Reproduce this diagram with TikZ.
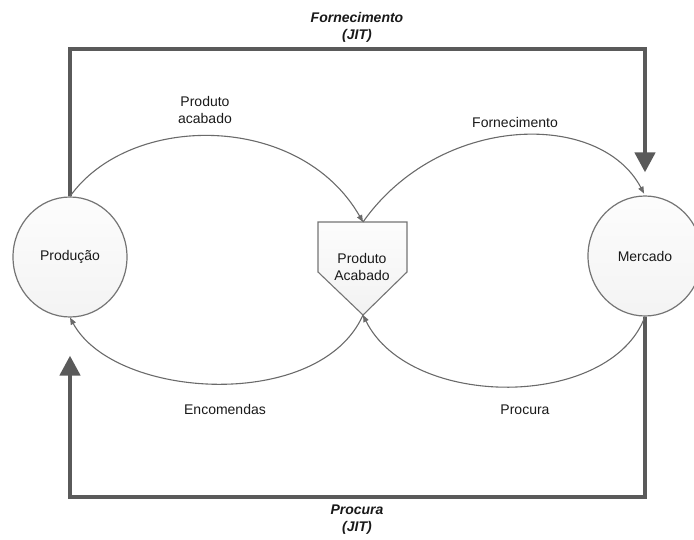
\documentclass[tikz,border=0pt]{standalone}
\usepackage{fontspec}
\setmainfont{Liberation Sans}
\usetikzlibrary{arrows.meta,shapes.geometric}
\definecolor{flowgray}{HTML}{5A5A5A}
\definecolor{linegray}{HTML}{6A6A6A}
\definecolor{edgegray}{HTML}{747474}
\begin{document}
\begin{tikzpicture}[x=1pt,y=-1pt,
  every node/.style={font=\fontsize{14}{17}\selectfont, text=black!90},
  station/.style={ellipse, draw=edgegray, line width=1.2pt, top color=gray!2, bottom color=gray!9,
    minimum width=114pt, minimum height=120pt, inner sep=0pt},
  bigflow/.style={draw=flowgray, line width=4.5pt, -{Triangle[width=20pt,length=20pt]}},
  flow/.style={draw=linegray, line width=1.1pt, -{Triangle[width=5.5pt,length=7pt]}},
  lbl/.style={align=center, inner sep=0pt},
  jit/.style={lbl, font=\fontsize{14}{17}\selectfont\bfseries\itshape}]
\useasboundingbox (0,0) rectangle (694,540);

% production and market
\node[station] (prod) at (70,257) {Produção};
\node[station] (merc) at (645,256) {Mercado};

% finished-goods stock
\path[draw=edgegray, line width=1.1pt, top color=gray!2, bottom color=gray!10]
  (318,222) -- (407,222) -- (407,272) -- (363,315) -- (318,272) -- cycle;
\coordinate (pat) at (363,222);
\coordinate (pab) at (363,315);
\node[lbl] (pa) at (362,267) {Produto\\Acabado};

% JIT loops
\coordinate (topbar) at (358,49);
\coordinate (botbar) at (358,497);
\draw[bigflow, shorten >=23pt] (prod.north) |- (topbar) -| (merc.north);
\draw[bigflow, shorten >=38pt] (merc.south) |- (botbar) -| (prod.south);

% material and information flows
\draw[flow] (prod.north) .. controls (130,112) and (300,112) .. (pat);
\draw[flow, shorten >=2pt] (pat) .. controls (440,113) and (600,110) .. (merc.north);
\draw[flow] (merc.south) .. controls (610,410) and (410,410) .. (pab);
\draw[flow] (pab) .. controls (320,412) and (115,400) .. (prod.south);

% labels
\node[lbl] (l1) at (205,110) {Produto\\acabado};
\node[lbl] (l2) at (515,122) {Fornecimento};
\node[lbl] (l3) at (225,409) {Encomendas};
\node[lbl] (l4) at (525,410) {Procura};
\node[jit] (t1) at (357,27) {Fornecimento\\(JIT)};
\node[jit] (t2) at (357,520) {Procura\\(JIT)};
\end{tikzpicture}
\end{document}
